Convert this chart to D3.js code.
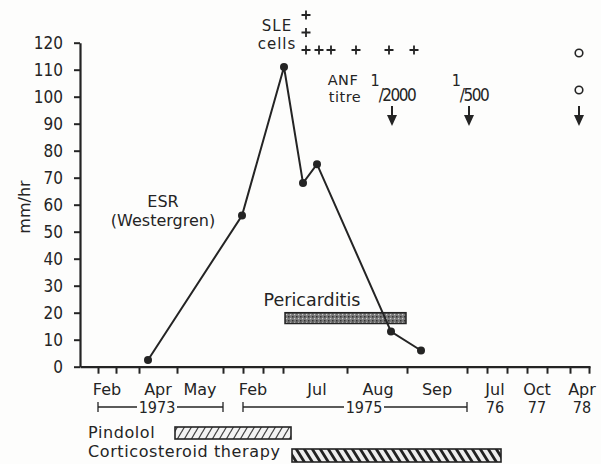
<!DOCTYPE html>
<html>
<head>
<meta charset="utf-8">
<script src="https://cdn.jsdelivr.net/npm/d3@7"></script>
<style>
  body { margin: 0; background: #fdfdfc; }
  text { font-family: "DejaVu Sans", sans-serif; fill: #242424; }
  .num { font-family: "DejaVu Sans Condensed", "DejaVu Sans", sans-serif; }
</style>
</head>
<body>
<div id="chart"></div>
<script>
// ESR values, x in timeline units along the (schematic) time axis
var esrX = [6.8, 16.2, 20.4, 22.3, 23.7, 31.1, 34.1];
var esrY = [2.5, 56, 111, 68, 75, 13, 6];

// x axis ticks and labels
var tickUnits = [1.8, 3.6, 5.9, 9.7, 14.3, 16.3, 18.3, 20.3, 26.7, 32.7, 38.7, 40.7, 42.7, 44.7, 46.7, 49.0, 50.9];
var monthLabels = ["Feb", "Apr", "May", "Feb", "Jul", "Aug", "Sep", "Jul", "Oct", "Apr"];
var monthPos = [2.7, 7.8, 12.0, 17.3, 23.7, 29.8, 35.7, 41.5, 45.7, 50.2];
var yearLabels = ["1973", "1975", "76", "77", "78"];
var yearPos = [7.7, 28.4, 41.5, 45.7, 50.2];
var yearSpans = [[1.8, 14.3], [16.3, 38.7]];

// SLE cells (+ marks) and ANF titre
var sleX = [22.6, 23.9, 25.1, 27.6, 30.9, 33.4];
var sleCount = [3, 1, 1, 1, 1, 1];
var sleNegX = [49.9];
var anfX = [31.2, 38.9, 49.9];
var anfTitre = ["2000", "500", null];

// pericarditis (x span, y span in mm/hr) and therapies
var pericarditis = { x0: 20.5, x1: 32.6, y0: 16, y1: 20 };
var therapyNames = ["Pindolol", "Corticosteroid therapy"];
var therapySpans = [[9.5, 21.1], [21.2, 42.1]];

var width = 601, height = 464;
var svg = d3.select("#chart").append("svg")
    .attr("width", width)
    .attr("height", height);

var x = d3.scaleLinear().domain([0, 51]).range([80, 590]);
var y = d3.scaleLinear().domain([0, 120]).range([366.7, 42.7]);
var ink = "#242424";

// patterns
var defs = svg.append("defs");
var p1 = defs.append("pattern").attr("id", "hatchA").attr("patternUnits", "userSpaceOnUse")
    .attr("width", 7).attr("height", 12);
p1.append("rect").attr("width", 7).attr("height", 12).attr("fill", "#f4f4f4");
p1.append("path").attr("d", "M-1,13 L7,-1 M6,13 L14,-1 M-8,13 L0,-1").attr("stroke", "#444").attr("stroke-width", 1.2);
var p2 = defs.append("pattern").attr("id", "hatchB").attr("patternUnits", "userSpaceOnUse")
    .attr("width", 8).attr("height", 14);
p2.append("rect").attr("width", 8).attr("height", 14).attr("fill", "#eee");
p2.append("path").attr("d", "M-1,-1 L9,15 M7,-1 L17,15 M-9,-1 L1,15").attr("stroke", "#222").attr("stroke-width", 2.8);
var p3 = defs.append("pattern").attr("id", "stipple").attr("patternUnits", "userSpaceOnUse")
    .attr("width", 4).attr("height", 4);
p3.append("rect").attr("width", 4).attr("height", 4).attr("fill", "#7a7a7a");
p3.append("rect").attr("x", 0).attr("y", 0).attr("width", 1.5).attr("height", 1.5).attr("fill", "#333");
p3.append("rect").attr("x", 2).attr("y", 2).attr("width", 1.2).attr("height", 1.2).attr("fill", "#cfcfcf");

// y axis
var yAxis = svg.append("g")
    .attr("transform", "translate(80,0)")
    .call(d3.axisLeft(y).tickValues(d3.range(0, 121, 10)).tickSize(6).tickSizeOuter(0).tickPadding(11));
yAxis.select(".domain").attr("stroke", ink).attr("stroke-width", 2.2);
yAxis.selectAll(".tick line").attr("stroke", ink).attr("stroke-width", 2);
yAxis.selectAll(".tick text").attr("class", "num").style("font-size", "17px")
    .style("font-family", "DejaVu Sans Condensed").attr("fill", ink);

svg.append("text")
    .attr("transform", "translate(30,207) rotate(-90)")
    .attr("text-anchor", "middle")
    .style("font-size", "16px")
    .text("mm/hr");

// x axis
var xAxis = svg.append("g")
    .attr("transform", "translate(0," + y(0) + ")")
    .call(d3.axisBottom(x).tickValues(tickUnits).tickSize(7).tickSizeOuter(0).tickFormat(""));
xAxis.select(".domain").attr("stroke", ink).attr("stroke-width", 2.2);
xAxis.selectAll(".tick line").attr("stroke", ink).attr("stroke-width", 2);

svg.selectAll(".month").data(monthLabels).enter().append("text")
    .attr("x", function(d, i) { return x(monthPos[i]); })
    .attr("y", 395)
    .attr("text-anchor", "middle")
    .style("font-size", "16px")
    .text(function(d) { return d; });

svg.selectAll(".year").data(yearLabels).enter().append("text")
    .attr("class", "num")
    .attr("x", function(d, i) { return x(yearPos[i]); })
    .attr("y", 413)
    .attr("text-anchor", "middle")
    .style("font-size", "16px")
    .text(function(d) { return d; });

// year span brackets
yearSpans.forEach(function(s, i) {
    var g = svg.append("g").attr("stroke", ink).attr("stroke-width", 1.3);
    var mid = x(yearPos[i]);
    var gap = 20;
    g.append("line").attr("x1", x(s[0])).attr("x2", mid - gap).attr("y1", 407).attr("y2", 407);
    g.append("line").attr("x1", mid + gap).attr("x2", x(s[1])).attr("y1", 407).attr("y2", 407);
    g.append("line").attr("x1", x(s[0])).attr("x2", x(s[0])).attr("y1", 402).attr("y2", 412);
    g.append("line").attr("x1", x(s[1])).attr("x2", x(s[1])).attr("y1", 402).attr("y2", 412);
});

// pericarditis bar
svg.append("rect")
    .attr("x", x(pericarditis.x0))
    .attr("y", y(pericarditis.y1))
    .attr("width", x(pericarditis.x1) - x(pericarditis.x0))
    .attr("height", y(pericarditis.y0) - y(pericarditis.y1))
    .attr("fill", "url(#stipple)")
    .attr("stroke", ink).attr("stroke-width", 1.5);
svg.append("text")
    .attr("x", 312).attr("y", 306)
    .attr("text-anchor", "middle")
    .style("font-size", "17.5px")
    .text("Pericarditis");

// ESR line and points
var pts = esrX.map(function(d, i) { return [d, esrY[i]]; });
svg.append("path")
    .datum(pts)
    .attr("fill", "none")
    .attr("stroke", ink)
    .attr("stroke-width", 2)
    .attr("d", d3.line().x(function(d) { return x(d[0]); }).y(function(d) { return y(d[1]); }));
svg.selectAll(".pt").data(pts).enter().append("circle")
    .attr("cx", function(d) { return x(d[0]); })
    .attr("cy", function(d) { return y(d[1]); })
    .attr("r", 4)
    .attr("fill", ink);

var esrLabel = svg.append("text").attr("text-anchor", "middle").style("font-size", "16px");
esrLabel.append("tspan").attr("x", 163).attr("y", 207).text("ESR");
esrLabel.append("tspan").attr("x", 163).attr("dy", 18.5).text("(Westergren)");

// SLE cells
var sleLabel = svg.append("text").attr("text-anchor", "middle")
    .style("font-size", "15px").style("letter-spacing", "1px");
sleLabel.append("tspan").attr("x", 277).attr("y", 31).text("SLE");
sleLabel.append("tspan").attr("x", 277).attr("dy", 17.5).text("cells");
sleX.forEach(function(d, i) {
    for (var k = 0; k < sleCount[i]; k++) {
        var cx = x(d), cy = 50 - k * 17.5;
        svg.append("path")
            .attr("d", "M" + (cx - 4.5) + "," + cy + "H" + (cx + 4.5) + "M" + cx + "," + (cy - 4.5) + "V" + (cy + 4.5))
            .attr("stroke", ink).attr("stroke-width", 1.8);
    }
});
sleNegX.forEach(function(d) {
    svg.append("circle").attr("cx", x(d)).attr("cy", 53).attr("r", 3.8)
        .attr("fill", "none").attr("stroke", ink).attr("stroke-width", 1.6);
});

// ANF titre
var anfLabel = svg.append("text").attr("text-anchor", "middle")
    .style("font-size", "14.5px").style("letter-spacing", "0.5px");
anfLabel.append("tspan").attr("x", 343).attr("y", 85).text("ANF");
anfLabel.append("tspan").attr("x", 345).attr("dy", 16.5).text("titre");
anfX.forEach(function(d, i) {
    var cx = x(d);
    if (anfTitre[i]) {
        var t = svg.append("text").attr("class", "num")
            .attr("x", cx + 5).attr("y", 101).attr("text-anchor", "middle")
            .style("font-size", "17px").style("letter-spacing", "-1.5px")
            .text("/" + anfTitre[i]);
        var left = cx + 5 - t.node().getComputedTextLength() / 2;
        svg.append("text").attr("class", "num").attr("x", left).attr("y", 86).attr("text-anchor", "end")
            .style("font-size", "16px").style("letter-spacing", "-1px").text("1");
    } else {
        svg.append("circle").attr("cx", cx).attr("cy", 90).attr("r", 3.8)
            .attr("fill", "none").attr("stroke", ink).attr("stroke-width", 1.6);
    }
    svg.append("line").attr("x1", cx).attr("x2", cx).attr("y1", 106).attr("y2", 118)
        .attr("stroke", ink).attr("stroke-width", 2);
    svg.append("path")
        .attr("d", "M" + (cx - 5) + ",115 L" + (cx + 5) + ",115 L" + cx + ",126 Z")
        .attr("fill", ink);
});

// therapy bars
var rowY = [433, 455];
var labelY = [438, 457];
therapyNames.forEach(function(name, i) {
    svg.append("text").attr("x", 88).attr("y", labelY[i])
        .style("font-size", "16px").style("letter-spacing", "0.6px").text(name);
    svg.append("rect")
        .attr("x", x(therapySpans[i][0]))
        .attr("y", rowY[i] - 6)
        .attr("width", x(therapySpans[i][1]) - x(therapySpans[i][0]))
        .attr("height", i === 0 ? 12 : 13)
        .attr("fill", i === 0 ? "url(#hatchA)" : "url(#hatchB)")
        .attr("stroke", ink).attr("stroke-width", 1.6);
});
</script>
</body>
</html>
